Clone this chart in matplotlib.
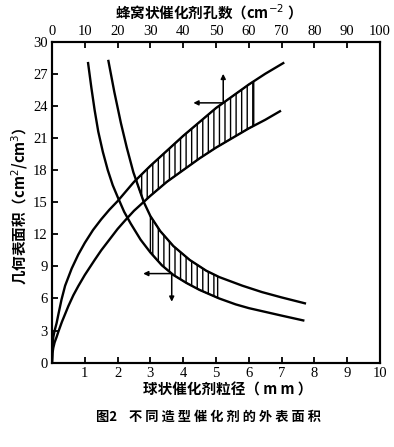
import numpy as np
import matplotlib
matplotlib.use('Agg')
import matplotlib.pyplot as plt

# sphere catalyst: particle diameter (mm) -> geometric surface area (cm2/cm3)
sph_d_lo = [1.10, 1.20, 1.30, 1.41, 1.55, 1.70, 1.85, 2.00, 2.20, 2.40, 2.70, 3.00, 3.35, 3.70, 4.10, 4.50, 5.10, 5.60, 6.00, 6.50, 7.00, 7.66]
sph_a_lo = [28.0, 25.7, 23.6, 21.6, 19.7, 18.0, 16.6, 15.5, 14.1, 13.0, 11.5, 10.3, 9.1, 8.2, 7.45, 6.8, 6.0, 5.45, 5.1, 4.75, 4.4, 3.95]
sph_d_hi = [1.72, 1.90, 2.10, 2.28, 2.48, 2.65, 2.80, 3.00, 3.30, 3.70, 4.20, 4.70, 5.10, 5.80, 6.40, 7.00, 7.71]
sph_a_hi = [28.2, 25.3, 22.4, 20.1, 17.8, 16.3, 15.0, 13.7, 12.3, 10.9, 9.6, 8.6, 8.0, 7.2, 6.6, 6.1, 5.55]

# honeycomb catalyst: cells per cm2 -> geometric surface area (cm2/cm3)
hc_n_hi = [0, 0.15, 0.4, 0.8, 1.4, 2, 2.9, 4, 5, 6, 8, 10, 12.5, 15, 17.5, 20, 25, 30, 35, 40, 45, 50, 55, 60, 65, 70.5]
hc_a_hi = [0, 1.5, 2.4, 3.0, 3.7, 4.6, 5.9, 7.2, 8.0, 8.8, 10.1, 11.2, 12.4, 13.4, 14.3, 15.1, 16.9, 18.4, 19.8, 21.2, 22.5, 23.8, 24.9, 26.0, 27.0, 28.0]
hc_n_lo = [0, 0.15, 0.4, 0.8, 1.4, 2, 3, 4, 5, 6.5, 8, 10, 13, 15, 17.5, 20, 22.3, 25, 30, 35, 40, 45, 50, 55, 60, 65, 69.5]
hc_a_lo = [0, 0.9, 1.4, 1.9, 2.4, 2.95, 3.8, 4.55, 5.3, 6.3, 7.15, 8.2, 9.6, 10.5, 11.5, 12.5, 13.3, 14.2, 15.6, 16.9, 18.0, 19.1, 20.1, 21.0, 21.9, 22.7, 23.5]

sph_band = (3.0, 5.05)      # mm
hc_band = (25.8, 61.5)      # cells/cm2

x_ticks = list(range(1, 11))
y_ticks = list(range(0, 31, 3))
top_ticks = list(range(0, 101, 10))

cjk = ['Noto Sans CJK SC', 'DejaVu Sans']
num_font = 'Liberation Serif'

fig = plt.figure(figsize=(3.94, 4.47), dpi=100)
ax = fig.add_axes([0.132, 0.1886, 0.8325, 0.7181])
ax2 = ax.twiny()

lw = 1.7
ax.plot(sph_d_lo, sph_a_lo, color='black', lw=lw)
ax.plot(sph_d_hi, sph_a_hi, color='black', lw=lw)
ax2.plot(hc_n_hi, hc_a_hi, color='black', lw=lw)
ax2.plot(hc_n_lo, hc_a_lo, color='black', lw=lw)

plt.rcParams['hatch.linewidth'] = 1.0

# hatched band for spheres
xs = np.linspace(sph_band[0], sph_band[1], 200)
ax.fill_between(xs, np.interp(xs, sph_d_lo, sph_a_lo), np.interp(xs, sph_d_hi, sph_a_hi),
                facecolor='none', edgecolor='black', hatch='|||', lw=1.0)

# hatched band for honeycomb (right of the upper sphere curve)
xn = np.linspace(hc_band[0], hc_band[1], 300)
top = np.interp(xn, hc_n_hi, hc_a_hi)
bot = np.maximum(np.interp(xn, hc_n_lo, hc_a_lo), np.interp(xn / 10.0, sph_d_hi, sph_a_hi))
ax2.fill_between(xn, bot, top, where=top >= bot, interpolate=True,
                 facecolor='none', edgecolor='black', hatch='|||', lw=1.0)

# arrows telling which axis each curve pair reads from
akw = dict(arrowstyle='-|>', color='black', lw=1.1, mutation_scale=7, shrinkA=0, shrinkB=0)
p_hc = 52.2
y_hc = np.interp(p_hc, hc_n_hi, hc_a_hi)
ax2.annotate('', xy=(43.1, y_hc), xytext=(p_hc, y_hc), arrowprops=akw)
ax2.annotate('', xy=(p_hc, 27.0), xytext=(p_hc, y_hc), arrowprops=akw)
p_sph = 3.65
y_sph = np.interp(p_sph, sph_d_lo, sph_a_lo)
ax.annotate('', xy=(2.78, y_sph), xytext=(p_sph, y_sph), arrowprops=akw)
ax.annotate('', xy=(p_sph, 5.7), xytext=(p_sph, y_sph), arrowprops=akw)

ax.set_xlim(0, 10)
ax.set_ylim(0, 30)
ax2.set_xlim(0, 100)

ax.set_xticks(x_ticks)
ax.set_xticklabels([str(v) for v in x_ticks])
ax.set_yticks(y_ticks)
ax.set_yticklabels([str(v) for v in y_ticks])
ax2.set_xticks(top_ticks)
ax2.set_xticklabels([str(v) for v in top_ticks])

for a in (ax, ax2):
    for s in a.spines.values():
        s.set_linewidth(1.5)
    a.tick_params(direction='in', length=4, width=1.3, labelsize=10.5, pad=3)
    for lab in a.get_xticklabels() + a.get_yticklabels():
        lab.set_fontfamily(num_font)

fig.text(0.518, 1 - 12 / 447, '蜂窝状催化剂孔数（cm$^{-2}$ ）', ha='center', va='center',
         fontsize=10.5, fontweight='bold', family=cjk)
fig.text(0.578, 1 - 390 / 447, '球状催化剂粒径（ m m ）', ha='center', va='center',
         fontsize=10.5, fontweight='bold', family=cjk)
fig.text(20 / 394, 1 - 206 / 447, '几何表面积（cm$^2$/cm$^3$）', ha='center', va='center',
         rotation=90, fontsize=10.5, fontweight='bold', family=cjk)
fig.text(0.53, 1 - 417 / 447, '图2    不 同 造 型 催 化 剂 的 外 表 面 积', ha='center', va='center',
         fontsize=9.5, fontweight='bold', family=cjk)

fig.savefig('out.png', dpi=100)
